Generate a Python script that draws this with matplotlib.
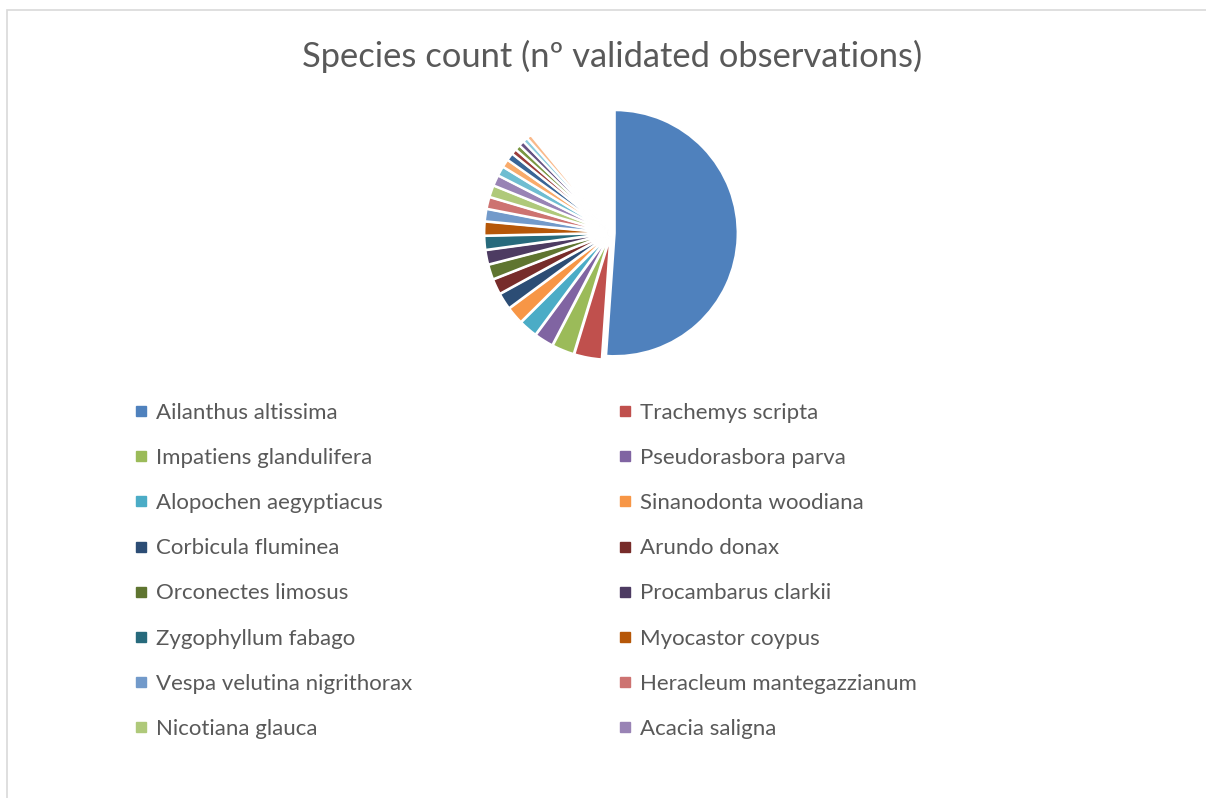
import matplotlib
matplotlib.use('Agg')
import matplotlib.pyplot as plt
from matplotlib.lines import Line2D
from matplotlib.patches import Rectangle

# species shown in the legend (Excel cut the legend after 16 entries)
species = ['Ailanthus altissima', 'Trachemys scripta', 'Impatiens glandulifera',
           'Pseudorasbora parva', 'Alopochen aegyptiacus', 'Sinanodonta woodiana',
           'Corbicula fluminea', 'Arundo donax', 'Orconectes limosus',
           'Procambarus clarkii', 'Zygophyllum fabago', 'Myocastor coypus',
           'Vespa velutina nigrithorax', 'Heracleum mantegazzianum',
           'Nicotiana glauca', 'Acacia saligna']
counts = [736, 52, 42, 36, 35, 33, 31, 29, 28, 27, 26, 26, 23, 22, 22, 20]
# further species drawn in the pie but not named in the legend
unlisted_counts = [18, 15, 14, 10, 10, 10, 9, 9]
# long tail of species too small to show as a visible slice
tail_count = 157

colors = ['#4F81BD', '#C0504D', '#9BBB59', '#8064A2', '#4BACC6', '#F79646',
          '#2C4D75', '#772C2A', '#5F7530', '#4D3B62', '#276A7C', '#B65708',
          '#729ACA', '#CD7371', '#AFC97A', '#9983B5', '#6FBDD1', '#F9AB6B',
          '#3A6596', '#9B3D3B', '#7A9742', '#675283', '#8CCBDC', '#FAB98A']

txt = '#595959'
plt.rcParams['font.family'] = ['Lato', 'DejaVu Sans']

W, H = 1206, 798
fig = plt.figure(figsize=(W / 100, H / 100), dpi=100)

# chart area border (cropped at right / bottom)
fig.add_artist(Rectangle((7 / W, -0.1), 1.2, 1 - 10 / H + 0.1, transform=fig.transFigure,
                         fill=False, edgecolor='#D9D9D9', linewidth=1.2, clip_on=False))

fig.text(612 / W, 1 - 56 / H, 'Species count (nº validated observations)',
         ha='center', va='center', fontsize=24.8, color=txt)

# pie
cx, cy, r = 611, 233, 123
lim = 1.12
side = 2 * lim * r
ax = fig.add_axes([(cx - side / 2) / W, (H - cy - side / 2) / H, side / W, side / H])
values = counts + unlisted_counts + [tail_count]
wedges, _ = ax.pie(values, colors=colors + ['white'], startangle=90, counterclock=False,
                   explode=[0.03] * len(values),
                   wedgeprops=dict(edgecolor='white', linewidth=1.6))
wedges[-1].set_visible(False)
ax.set_xlim(-lim, lim)
ax.set_ylim(-lim, lim)
ax.set_aspect('equal')
ax.axis('off')

# legend, two columns filled row by row
handles = [Line2D([], [], marker='s', linestyle='', markersize=6.5, color=c) for c in colors[:16]]
for col, x in ((0, 134.5), (1, 618.5)):
    idx = list(range(col, 16, 2))
    fig.legend([handles[i] for i in idx], [species[i] for i in idx],
               loc='upper left', bbox_to_anchor=(x / W, 1 - 403 / H),
               frameon=False, fontsize=16, labelcolor=txt,
               handlelength=0.6, handletextpad=0.35, borderpad=0, borderaxespad=0,
               labelspacing=1.13)

fig.savefig('out.png', dpi=100)
